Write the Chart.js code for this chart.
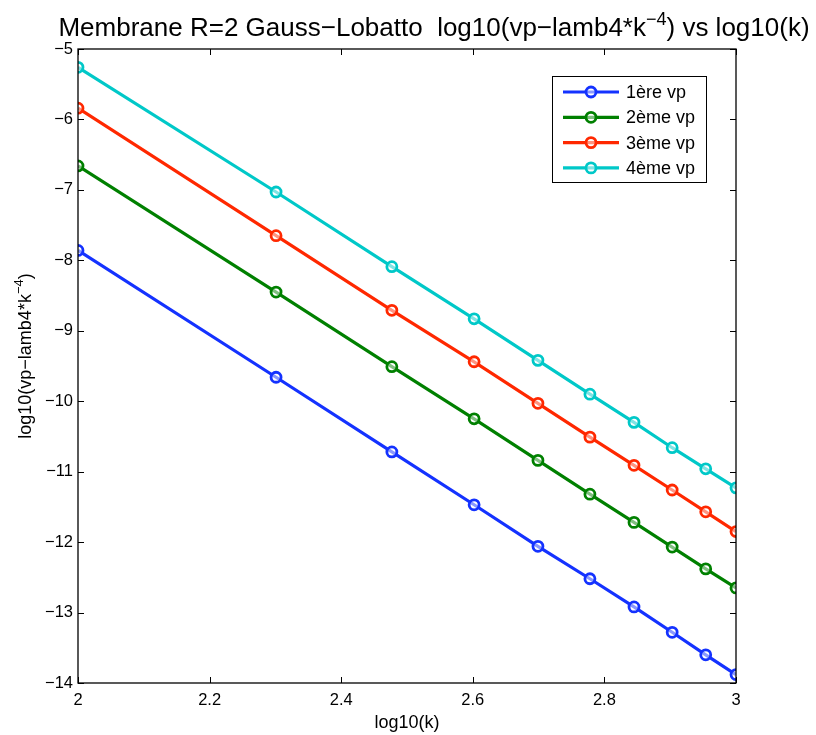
<!DOCTYPE html>
<html>
<head>
<meta charset="utf-8">
<script src="https://cdn.jsdelivr.net/npm/chart.js@4.4.0/dist/chart.umd.min.js"></script>
<style>
  html, body { margin: 0; padding: 0; background: #fff; }
  #c { display: block; }
</style>
</head>
<body>
<canvas id="c" width="816" height="735"></canvas>
<script>
// log10(k) for k = 100 ... 1000
const logK = [2, 2.301, 2.477, 2.602, 2.699, 2.778, 2.845, 2.903, 2.954, 3];
const vp1 = [-7.86, -9.66, -10.72, -11.47, -12.06, -12.52, -12.92, -13.28, -13.60, -13.88];
const vp2 = [-6.66, -8.45, -9.51, -10.25, -10.84, -11.32, -11.72, -12.07, -12.38, -12.65];
const vp3 = [-5.84, -7.65, -8.71, -9.44, -10.03, -10.51, -10.91, -11.26, -11.57, -11.85];
const vp4 = [-5.26, -7.03, -8.09, -8.83, -9.42, -9.90, -10.30, -10.66, -10.96, -11.23];
const seriesNames = ['1ère vp', '2ème vp', '3ème vp', '4ème vp'];
const seriesColors = ['rgb(20,50,255)', 'rgb(0,128,0)', 'rgb(255,40,0)', 'rgb(0,200,200)'];
const xTicks = [2, 2.2, 2.4, 2.6, 2.8, 3];
const yTicks = [-5, -6, -7, -8, -9, -10, -11, -12, -13, -14];

const FONT = "'Liberation Sans', Arial, Helvetica, sans-serif";

function toPoints(ys) {
  return ys.map((y, i) => ({ x: logK[i], y: y }));
}

const allSeries = [vp1, vp2, vp3, vp4];
const datasets = allSeries.map((ys, i) => ({
  label: seriesNames[i],
  data: toPoints(ys),
  borderColor: seriesColors[i],
  backgroundColor: seriesColors[i],
  borderWidth: 3.2,
  pointRadius: 5,
  pointBorderWidth: 2.8,
  pointBackgroundColor: 'rgba(255,255,255,0.5)',
  pointBorderColor: seriesColors[i],
  tension: 0
}));

// draws text pieces left to right, some raised as superscript
function drawPieces(ctx, parts, x, base, bigSize, smallSize, lift) {
  parts.forEach(p => {
    ctx.font = (p.sup ? smallSize : bigSize) + 'px ' + FONT;
    ctx.fillText(p.t, x, p.sup ? base - lift : base);
    x += ctx.measureText(p.t).width;
  });
}
function piecesWidth(ctx, parts, bigSize, smallSize) {
  let w = 0;
  parts.forEach(p => {
    ctx.font = (p.sup ? smallSize : bigSize) + 'px ' + FONT;
    w += ctx.measureText(p.t).width;
  });
  return w;
}

// box + inward ticks, matlab style
const boxPlugin = {
  id: 'box',
  afterDraw(chart) {
    const ctx = chart.ctx;
    const a = chart.chartArea;
    const xs = chart.scales.x, ys = chart.scales.y;
    ctx.save();
    ctx.strokeStyle = '#000';
    ctx.lineWidth = 1.3;
    ctx.strokeRect(a.left, a.top, a.right - a.left, a.bottom - a.top);
    ctx.lineWidth = 1;
    const tl = 6;
    xTicks.forEach(v => {
      const px = Math.round(xs.getPixelForValue(v)) + 0.5;
      ctx.beginPath();
      ctx.moveTo(px, a.bottom); ctx.lineTo(px, a.bottom - tl);
      ctx.moveTo(px, a.top); ctx.lineTo(px, a.top + tl);
      ctx.stroke();
    });
    yTicks.forEach(v => {
      const py = Math.round(ys.getPixelForValue(v)) + 0.5;
      ctx.beginPath();
      ctx.moveTo(a.left, py); ctx.lineTo(a.left + tl, py);
      ctx.moveTo(a.right, py); ctx.lineTo(a.right - tl, py);
      ctx.stroke();
    });
    ctx.restore();
  }
};

// title and y label with superscripts
const textPlugin = {
  id: 'mtext',
  afterDraw(chart) {
    const ctx = chart.ctx;
    ctx.save();
    ctx.fillStyle = '#000';
    ctx.textBaseline = 'alphabetic';
    ctx.textAlign = 'left';

    const title = [
      { t: 'Membrane R=2 Gauss\u2212Lobatto  log10(vp\u2212lamb4*k' },
      { t: '\u22124', sup: true },
      { t: ') vs log10(k)' }
    ];
    const tw = piecesWidth(ctx, title, 26, 18);
    drawPieces(ctx, title, 434 - tw / 2, 36, 26, 18, 11);

    const ylab = [
      { t: 'log10(vp\u2212lamb4*k' },
      { t: '\u22124', sup: true },
      { t: ')' }
    ];
    const yw = piecesWidth(ctx, ylab, 18, 13);
    ctx.translate(31, 356);
    ctx.rotate(-Math.PI / 2);
    drawPieces(ctx, ylab, -yw / 2, 0, 18, 13, 8);
    ctx.restore();
  }
};

// boxed legend in the upper right
const legendPlugin = {
  id: 'mlegend',
  afterDraw(chart) {
    const ctx = chart.ctx;
    const bx = 552, by = 76, bw = 154, bh = 106;
    ctx.save();
    ctx.fillStyle = '#fff';
    ctx.fillRect(bx, by, bw, bh);
    ctx.strokeStyle = '#000';
    ctx.lineWidth = 1;
    ctx.strokeRect(bx + 0.5, by + 0.5, bw, bh);
    ctx.font = '18px ' + FONT;
    ctx.textBaseline = 'middle';
    chart.data.datasets.forEach((ds, i) => {
      const y = by + 16 + i * 25.3;
      ctx.strokeStyle = ds.borderColor;
      ctx.lineWidth = 3.2;
      ctx.beginPath();
      ctx.moveTo(563, y); ctx.lineTo(619, y);
      ctx.stroke();
      ctx.lineWidth = 2.8;
      ctx.fillStyle = 'rgba(255,255,255,0.5)';
      ctx.beginPath();
      ctx.arc(591, y, 5, 0, Math.PI * 2);
      ctx.fill();
      ctx.stroke();
      ctx.fillStyle = '#000';
      ctx.fillText(ds.label, 626, y + 1);
    });
    ctx.restore();
  }
};

new Chart(document.getElementById('c'), {
  type: 'line',
  data: { datasets: datasets },
  plugins: [boxPlugin, textPlugin, legendPlugin],
  options: {
    responsive: false,
    animation: false,
    devicePixelRatio: 1,
    layout: { padding: { left: 0, top: 49, right: 80, bottom: 0 } },
    plugins: {
      legend: { display: false },
      title: { display: false },
      tooltip: { enabled: false }
    },
    scales: {
      x: {
        type: 'linear',
        min: 2,
        max: 3,
        afterBuildTicks: s => { s.ticks = xTicks.map(v => ({ value: v })); },
        afterFit: s => { s.height = 52; },
        grid: { display: false, drawTicks: false },
        border: { display: false },
        ticks: {
          color: '#000',
          padding: 8,
          maxRotation: 0,
          font: { family: FONT, size: 16.5 },
          callback: v => String(Math.round(v * 10) / 10)
        },
        title: {
          display: true,
          text: 'log10(k)',
          color: '#000',
          font: { family: FONT, size: 18 },
          padding: { top: 0, bottom: 1 }
        }
      },
      y: {
        type: 'linear',
        min: -14,
        max: -5,
        afterBuildTicks: s => { s.ticks = yTicks.map(v => ({ value: v })); },
        afterFit: s => { s.width = 78; },
        grid: { display: false, drawTicks: false },
        border: { display: false },
        ticks: {
          color: '#000',
          padding: 5,
          font: { family: FONT, size: 16.5 },
          callback: v => (v < 0 ? '\u2212' + Math.abs(v) : String(v))
        }
      }
    }
  }
});
</script>
</body>
</html>
